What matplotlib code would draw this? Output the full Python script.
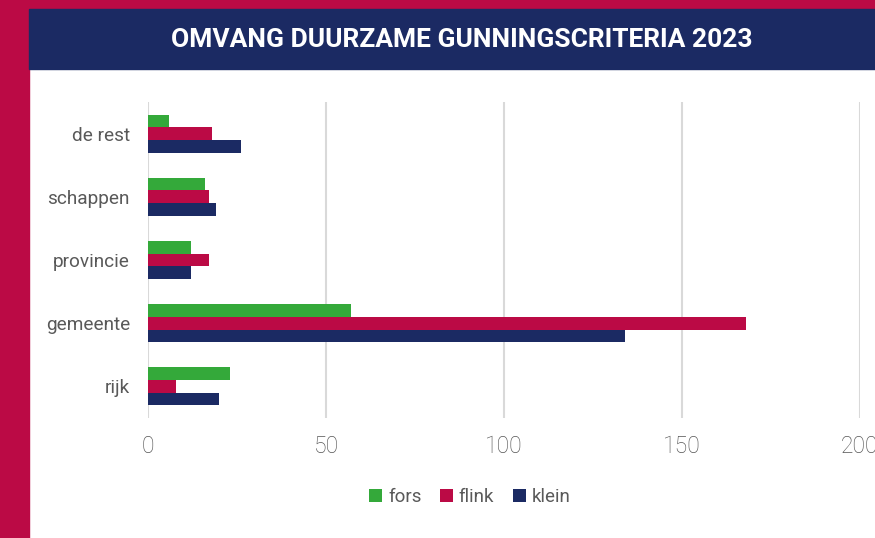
import numpy as np
import matplotlib
matplotlib.use('Agg')
import matplotlib.pyplot as plt
from matplotlib.patches import Rectangle

# data, bottom to top
categories = ['rijk', 'gemeente', 'provincie', 'schappen', 'de rest']
fors = [23, 57, 12, 16, 6]
flink = [8, 168, 17, 17, 18]
klein = [20, 134, 12, 19, 26]
series_names = ['fors', 'flink', 'klein']
x_ticks = [0, 50, 100, 150, 200]

green = '#34a93a'
crimson = '#bb0a45'
navy = '#1b2a63'
grey_text = '#595959'

plt.rcParams['font.family'] = ['Roboto', 'DejaVu Sans']

W, H = 875, 538
fig = plt.figure(figsize=(W / 100, H / 100), dpi=100)
fig.patch.set_facecolor('white')

# frame: crimson border left and top, navy title bar
fig.patches.append(Rectangle((0, 0), 29 / W, 1, transform=fig.transFigure,
                             color=crimson, zorder=0))
fig.patches.append(Rectangle((0, 1 - 9 / H), 1, 9 / H, transform=fig.transFigure,
                             color=crimson, zorder=0))
fig.patches.append(Rectangle((29 / W, 1 - 69 / H), 1 - 29 / W, 60 / H,
                             transform=fig.transFigure, color=navy, zorder=0))
fig.text(462 / W, 1 - 40 / H, 'OMVANG DUURZAME GUNNINGSCRITERIA 2023',
         color='white', fontsize=19, fontweight='bold', ha='center', va='center')

# axes: x=0 at 148px, x=200 at 860px, y from 102 to 418px
left = 148 / W
width = (860 - 148) / W
bottom = 1 - 418 / H
height = (418 - 102) / H
ax = fig.add_axes([left, bottom, width, height])
ax.set_facecolor('none')

y = np.arange(len(categories))
h = 0.2
ax.barh(y + h, fors, h, color=green, label='fors', zorder=3)
ax.barh(y, flink, h, color=crimson, label='flink', zorder=3)
ax.barh(y - h, klein, h, color=navy, label='klein', zorder=3)

ax.set_xlim(0, 200)
ax.set_ylim(-0.5, len(categories) - 0.5)
ax.set_xticks(x_ticks)
ax.set_yticks(y)
ax.set_yticklabels(categories)
ax.tick_params(axis='y', length=0, pad=13, labelsize=13.7, labelcolor=grey_text)
ax.tick_params(axis='x', length=0, pad=12, labelsize=16.5, labelcolor='#555555')
for lab in ax.get_xticklabels():
    lab.set_fontweight('light')
ax.grid(axis='x', color='#d9d9d9', linewidth=1.5, zorder=0)
for s in ax.spines.values():
    s.set_visible(False)

leg = fig.legend(loc='center', bbox_to_anchor=(470 / W, 1 - 497 / H), ncol=3,
                 frameon=False, fontsize=13.5, handlelength=0.7, handleheight=0.7,
                 handletextpad=0.3, columnspacing=1.0, labelcolor=grey_text)

fig.savefig('out.png', dpi=100, facecolor='white')
